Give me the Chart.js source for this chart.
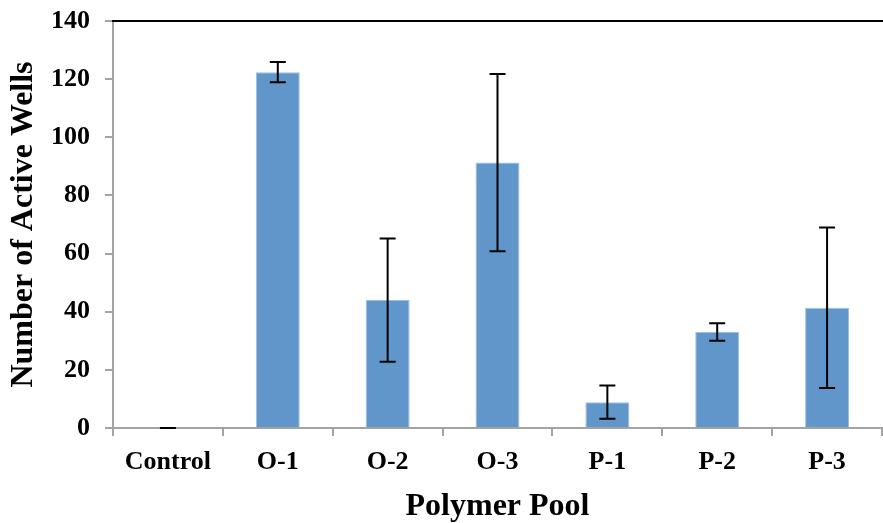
<!DOCTYPE html>
<html>
<head>
<meta charset="utf-8">
<script src="https://cdn.jsdelivr.net/npm/chart.js@4.4.1/dist/chart.umd.min.js"></script>
<style>
  html, body { margin: 0; padding: 0; background: #ffffff; }
  #wrap { width: 883px; height: 523px; }
</style>
</head>
<body>
<div id="wrap"><canvas id="chart" width="883" height="523"></canvas></div>
<script>
// Active wells per polymer pool (mean and error)
const categories = ['Control', 'O-1', 'O-2', 'O-3', 'P-1', 'P-2', 'P-3'];
const meanValues = [0, 122.4, 44.0, 91.3, 8.9, 33.0, 41.4];
const errorValues = [0, 3.5, 21.2, 30.5, 5.7, 3.0, 27.6];

const SERIF = '"Liberation Serif", "Times New Roman", serif';
const AXIS_GRAY = '#a3a3a3';

// Draws symmetric error bars with caps, centred on each bar
const errorBarPlugin = {
  id: 'errorBars',
  afterDatasetsDraw(chart) {
    const meta = chart.getDatasetMeta(0);
    const yScale = chart.scales.y;
    const ctx = chart.ctx;
    const cap = 8;
    ctx.save();
    ctx.strokeStyle = '#000000';
    ctx.lineWidth = 2;
    meta.data.forEach((bar, i) => {
      const v = meanValues[i];
      const e = errorValues[i];
      const yHi = yScale.getPixelForValue(v + e);
      const yLo = yScale.getPixelForValue(v - e);
      const x = bar.x;
      ctx.beginPath();
      ctx.moveTo(x, yHi); ctx.lineTo(x, yLo);
      ctx.moveTo(x - cap, yHi); ctx.lineTo(x + cap, yHi);
      ctx.moveTo(x - cap, yLo); ctx.lineTo(x + cap, yLo);
      ctx.stroke();
    });
    ctx.restore();
  }
};

// Black frame line along the top of the plot area
const topLinePlugin = {
  id: 'topLine',
  afterDraw(chart) {
    const { ctx, chartArea } = chart;
    ctx.save();
    ctx.strokeStyle = '#000000';
    ctx.lineWidth = 2;
    ctx.beginPath();
    ctx.moveTo(chartArea.left - 1, chartArea.top);
    ctx.lineTo(chart.width, chartArea.top);
    ctx.stroke();
    ctx.restore();
  }
};

new Chart(document.getElementById('chart'), {
  type: 'bar',
  data: {
    labels: categories,
    datasets: [{
      data: meanValues,
      backgroundColor: '#6096ca',
      borderColor: '#9dbde2',
      borderWidth: 1,
      categoryPercentage: 1.0,
      barPercentage: 0.4
    }]
  },
  options: {
    responsive: false,
    animation: false,
    layout: { padding: { top: 21, right: 1, left: 0, bottom: 0 } },
    plugins: {
      legend: { display: false },
      tooltip: { enabled: false }
    },
    scales: {
      x: {
        afterFit(scale) {
          scale.height = 95;
          scale.paddingLeft = 0;
          scale.paddingRight = 0;
        },
        grid: {
          offset: true,
          drawOnChartArea: false,
          drawTicks: true,
          tickLength: 8,
          color: AXIS_GRAY,
          lineWidth: 2
        },
        border: { color: AXIS_GRAY, width: 2 },
        ticks: {
          color: '#000000',
          padding: 11,
          font: { family: SERIF, size: 26, weight: 'bold' }
        },
        title: {
          display: true,
          text: 'Polymer Pool',
          color: '#000000',
          padding: { top: 2, bottom: 0 },
          font: { family: SERIF, size: 32, weight: 'bold', lineHeight: 1 }
        }
      },
      y: {
        min: 0,
        max: 140,
        afterFit(scale) {
          scale.width = 113;
          scale.paddingTop = 0;
          scale.paddingBottom = 0;
        },
        grid: {
          drawOnChartArea: false,
          drawTicks: true,
          tickLength: 8,
          color: AXIS_GRAY,
          lineWidth: 2
        },
        border: { color: AXIS_GRAY, width: 2 },
        ticks: {
          stepSize: 20,
          color: '#000000',
          padding: 15,
          font: { family: SERIF, size: 26, weight: 'bold' }
        },
        title: {
          display: true,
          text: 'Number of Active Wells',
          color: '#000000',
          padding: { top: 8, bottom: 0 },
          font: { family: SERIF, size: 32, weight: 'bold', lineHeight: 1 }
        }
      }
    }
  },
  plugins: [errorBarPlugin, topLinePlugin]
});
</script>
</body>
</html>
